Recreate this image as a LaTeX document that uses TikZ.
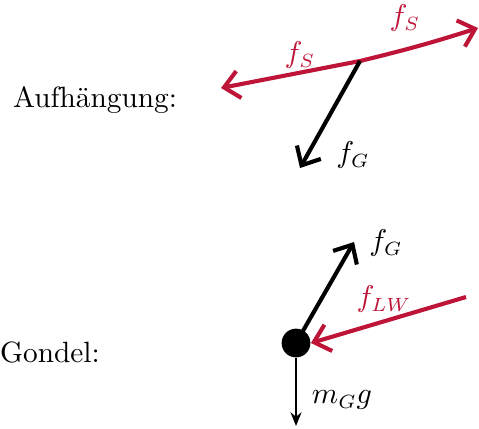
\documentclass[tikz,border=0pt]{standalone}
\usepackage{amsmath}
\usetikzlibrary{arrows.meta, positioning, calc}
\definecolor{seilred}{RGB}{190, 20, 55}

\begin{document}
\begin{tikzpicture}[
  x=0.365pt, y=-0.365pt,
  font=\fontsize{10.7}{13}\selectfont,
  force/.style={line width=1.5pt, -{Straight Barb[length=5.5pt, width=10pt, line width=1.5pt]}},
  thinforce/.style={line width=0.75pt, -{Stealth[length=5pt, width=4pt]}},
  lbl/.style={inner sep=1pt}
]
  \useasboundingbox (0,0) rectangle (479,428);

  % Aufhaengung
  \node[lbl] (aufh) at (95,100) {Aufh\"angung:};
  \coordinate (knot) at (360,61);
  \coordinate (sleft) at (221,88);
  \coordinate (sright) at (478,28);
  \coordinate (gdown) at (300,168);
  \draw[force, seilred] (knot) -- (sleft);
  \draw[force, seilred] (knot) to[bend right=2] (sright);
  \draw[force] (knot) -- (gdown);
  \node[lbl, seilred] (fsl) at (300,55) {$f_S$};
  \node[lbl, seilred] (fsr) at (405,18) {$f_S$};
  \node[lbl] (fgt) at (353,155) {$f_G$};

  % Gondel
  \node[lbl] (gond) at (50,352) {Gondel:};
  \node[circle, fill=black, inner sep=0pt, minimum size=10.5pt] (gondel) at (296,343) {};
  \coordinate (gup) at (354,242);
  \coordinate (lwstart) at (466,297);
  \coordinate (mdown) at (296,426);
  \draw[force] (gondel.center) -- (gup);
  \draw[force, seilred] (lwstart) -- (gondel.east);
  \draw[thinforce] (gondel.south) -- (mdown);
  \node[lbl] (fgb) at (386,243) {$f_G$};
  \node[lbl, seilred] (flw) at (384,299) {$f_{LW}$};
  \node[lbl] (mg) at (342,400) {$m_G g$};
\end{tikzpicture}
\end{document}
